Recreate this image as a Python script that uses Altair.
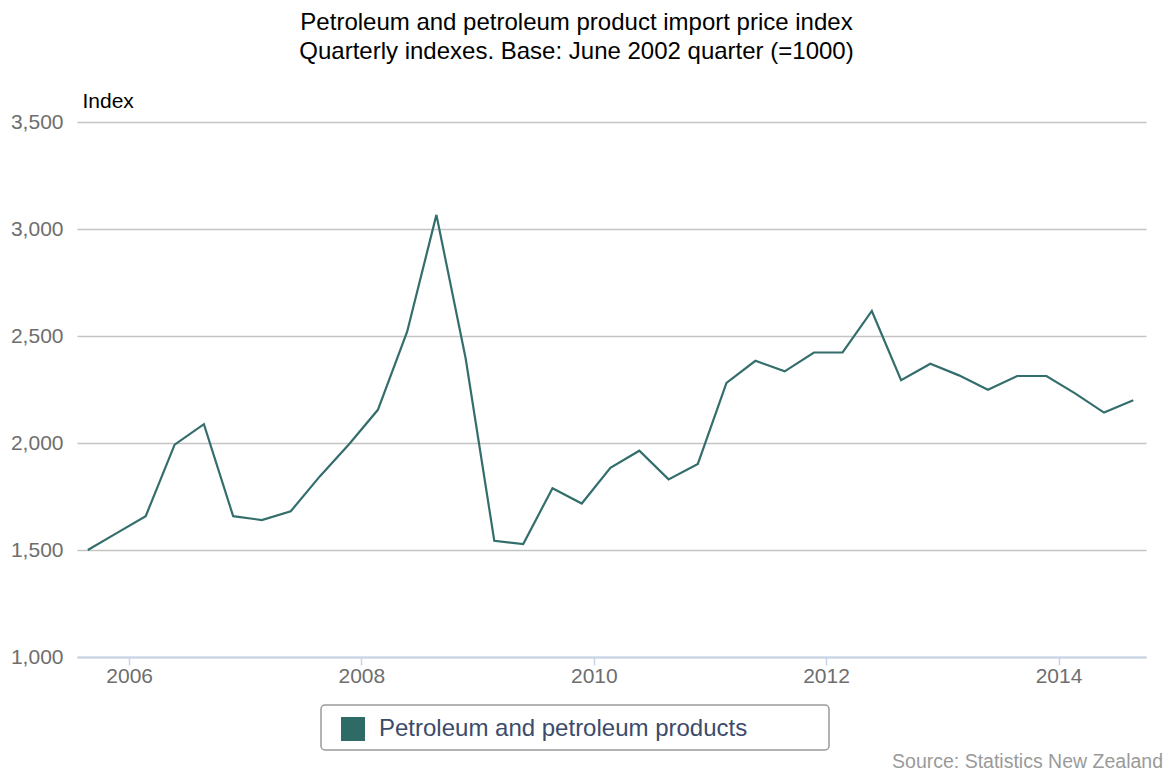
import altair as alt
import pandas as pd

TITLE = ["Petroleum and petroleum product import price index",
         "Quarterly indexes. Base: June 2002 quarter (=1000)"]
SERIES = "Petroleum and petroleum products"
SOURCE = "Source: Statistics New Zealand"

dates = [
    "2005/08/24", "2005/11/24",
    "2006/02/22", "2006/05/24", "2006/08/24", "2006/11/24",
    "2007/02/22", "2007/05/24", "2007/08/24", "2007/11/24",
    "2008/02/22", "2008/05/24", "2008/08/24", "2008/11/24",
    "2009/02/22", "2009/05/24", "2009/08/24", "2009/11/24",
    "2010/02/22", "2010/05/24", "2010/08/24", "2010/11/24",
    "2011/02/22", "2011/05/24", "2011/08/24", "2011/11/24",
    "2012/02/22", "2012/05/24", "2012/08/24", "2012/11/24",
    "2013/02/22", "2013/05/24", "2013/08/24", "2013/11/24",
    "2014/02/22", "2014/05/24", "2014/08/24",
]
values = [
    1500, 1580,
    1658, 1992, 2088, 1658,
    1640, 1681, 1845, 1995,
    2155, 2520, 3066, 2395,
    1543, 1528, 1789, 1717,
    1884, 1964, 1830, 1902,
    2281, 2384, 2335, 2423,
    2423, 2617, 2293, 2370,
    2316, 2249, 2313, 2313,
    2232, 2142, 2200,
]
y_ticks = [1000, 1500, 2000, 2500, 3000, 3500]
x_tick_years = [2006, 2008, 2010, 2012, 2014]

df = pd.DataFrame({"date": dates, "value": values, "series": [SERIES] * len(values)})
src = pd.DataFrame({"source": [SOURCE]})
box = pd.DataFrame({"box": [SERIES]})

LINE_COLOR = "#346e6c"
FONT = "Liberation Sans"

x_enc = alt.X(
    "date:T",
    scale=alt.Scale(domain=[alt.DateTime(year=2005, month=7, date=21),
                            alt.DateTime(year=2014, month=10, date=3)]),
    axis=alt.Axis(
        values=[alt.DateTime(year=y, month=1, date=1) for y in x_tick_years],
        format="%Y", title=None, grid=False,
        labelFontSize=21, labelColor="#6e6e6e", labelPadding=0,
        domainColor="#c5d4e6", domainWidth=2,
        tickColor="#c5d4e6", tickSize=8, tickWidth=1.5, zindex=1,
    ),
)
y_enc = alt.Y(
    "value:Q",
    scale=alt.Scale(domain=[1000, 3500], nice=False, zero=False),
    axis=alt.Axis(
        values=y_ticks, format=",.0f", domain=False, ticks=False,
        labelFontSize=21, labelColor="#6e6e6e", labelPadding=14,
        gridColor="#c4c4c4", gridWidth=1.5,
        title="Index", titleAngle=0, titleAlign="left", titleBaseline="alphabetic",
        titleX=5, titleY=-15, titleFontSize=21, titleFontWeight="normal", titleColor="#000000",
    ),
)

line = alt.Chart(df).mark_line(color=LINE_COLOR, strokeWidth=2.2).encode(x=x_enc, y=y_enc)

legend_marks = alt.Chart(df).mark_square(opacity=0, filled=True).encode(
    x="date:T", y="value:Q",
    color=alt.Color(
        "series:N",
        scale=alt.Scale(range=["#2e6a66"]),
        legend=alt.Legend(
            title=None, orient="none", legendX=244, legendY=585,
            symbolType="square", symbolSize=576, symbolOpacity=1, symbolStrokeWidth=0,
            symbolOffset=10,
            labelFontSize=24, labelColor="#3c4b6a", labelOffset=14, labelLimit=0,
            padding=10,
        ),
    ),
)

legend_box = alt.Chart(box).mark_rect(
    filled=False, stroke="#9a9a9a", strokeWidth=1.5, cornerRadius=4
).encode(x=alt.value(244), x2=alt.value(752), y=alt.value(583), y2=alt.value(628))

source = alt.Chart(src).mark_text(
    align="right", baseline="alphabetic", fontSize=19.5, color="#9a9a9a", font=FONT
).encode(x=alt.value(1086), y=alt.value(646), text="source:N")

chart = alt.layer(line, legend_marks, legend_box, source).properties(
    width=1069, height=535,
    title=alt.TitleParams(
        text=TITLE, fontSize=24, fontWeight="normal", color="#000000", font=FONT,
        lineHeight=29, anchor="middle", frame="group", dx=-35, offset=26,
    ),
    autosize=alt.AutoSizeParams(type="none"),
    padding={"left": 69, "top": 114, "right": 17, "bottom": 116},
).configure(font=FONT).configure_view(stroke=None)

chart.save("out.html", embed_options={"renderer": "svg", "actions": False})
